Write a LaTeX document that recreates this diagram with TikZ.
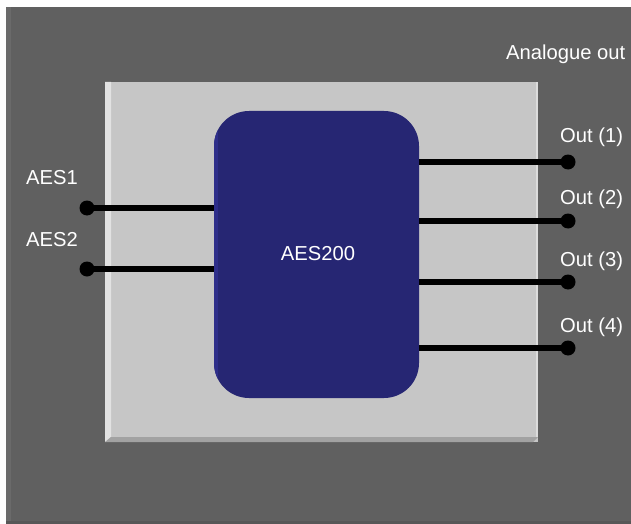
\documentclass[tikz,border=0pt]{standalone}
\usepackage{fontspec}
\setmainfont{Liberation Sans}
\definecolor{bgdark}{HTML}{606060}
\definecolor{bgedge}{HTML}{6A6A6A}
\definecolor{bgbottom}{HTML}{575757}
\definecolor{panel}{HTML}{C6C6C6}
\definecolor{panellight}{HTML}{E2E2E2}
\definecolor{panelshade}{HTML}{A2A2A2}
\definecolor{navy}{HTML}{262673}
\definecolor{navyedge}{HTML}{2E2E8A}
\begin{document}
\begin{tikzpicture}[x=1pt,y=-1pt,
  lbl/.style={text=white,inner sep=0pt,font=\fontsize{20.2}{23}\selectfont},
  wire/.style={line width=6pt,black},
  pin/.style={circle,fill=black,inner sep=0pt,minimum size=15pt},
  dspbox/.style={rectangle,rounded corners=35pt,fill=navy,draw=none,minimum width=205pt,minimum height=287pt,inner sep=0pt}]
\useasboundingbox (0,0) rectangle (631,524);
\fill[white] (0,0) rectangle (631,524);
% background
\fill[bgdark] (6,7) rectangle (631,524);
\fill[bgedge] (6,7) rectangle (11,524);
\fill[bgbottom] (6,521) rectangle (631,524);
% panel
\fill[panel] (105,82) rectangle (538,442);
\fill[panellight] (105,82) -- (111,82) -- (111,437) -- (105,442) -- cycle;
\fill[panelshade] (105,442) -- (111,437) -- (538,437) -- (533,442) -- cycle;
\fill[panellight!80!panel] (536,82) rectangle (538,437);
% dsp block
\node[dspbox] (dsp) at (316.5,254.5) {};
\begin{scope}
\clip[rounded corners=35pt] (214,111) rectangle (419,398);
\fill[navyedge] (214,111) rectangle (218,398);
\end{scope}
\node[lbl] (dsplabel) at (318,254) {AES200};
% inputs
\node[pin] (in1) at (87,208) {};
\node[pin] (in2) at (87,269) {};
\draw[wire] (in1.center) -- (in1.center -| dsp.west);
\draw[wire] (in2.center) -- (in2.center -| dsp.west);
\node[lbl,anchor=west] (l1) at (26,178) {AES1};
\node[lbl,anchor=west] (l2) at (26,240) {AES2};
% outputs
\node[pin] (o1) at (568,162) {};
\node[pin] (o2) at (568,221) {};
\node[pin] (o3) at (568,282) {};
\node[pin] (o4) at (568,348) {};
\foreach \k in {1,2,3,4} {\draw[wire] (o\k.center -| dsp.east) -- (o\k.center);}
\node[lbl,anchor=west] (lo1) at (560,137) {Out (1)};
\node[lbl,anchor=west] (lo2) at (560,199) {Out (2)};
\node[lbl,anchor=west] (lo3) at (560,261) {Out (3)};
\node[lbl,anchor=west] (lo4) at (560,327) {Out (4)};
\node[lbl,anchor=west] (ao) at (506,54) {Analogue out};
\end{tikzpicture}
\end{document}
